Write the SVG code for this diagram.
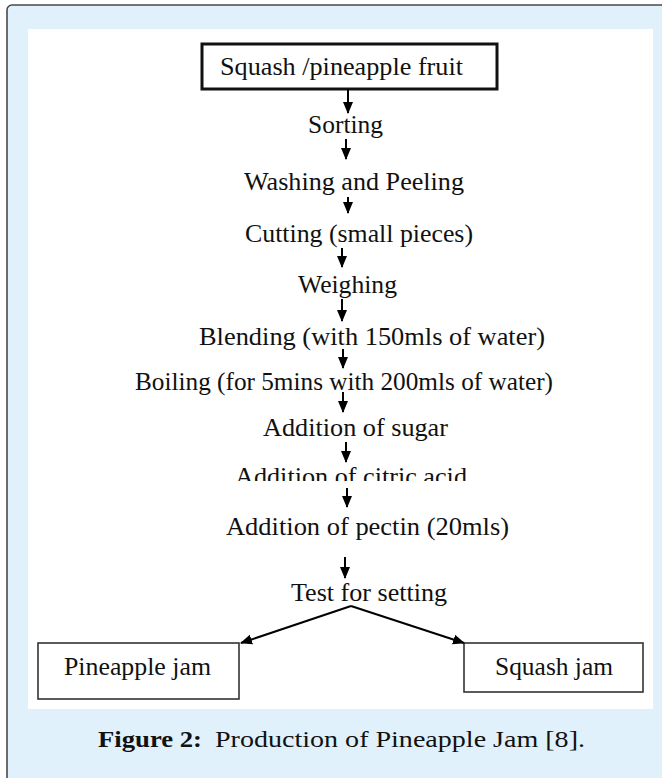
<svg xmlns="http://www.w3.org/2000/svg" width="662" height="778" viewBox="0 0 662 778">
  <style>
    .t { font-family: 'Liberation Serif', Tinos, 'Times New Roman', Times, 'Nimbus Roman', serif; font-size: 25px; fill: #111; }
    .cap { font-family: 'Liberation Serif', Tinos, 'Times New Roman', serif; font-size: 24px; fill: #111; }
    .box { fill: #fff; stroke: #333; stroke-width: 1.6; }
    .ln { stroke: #000; stroke-width: 2; fill: none; }
  </style>
  <defs>
    <marker id="ah" markerWidth="12" markerHeight="12" refX="11" refY="6" orient="auto" markerUnits="userSpaceOnUse">
      <path d="M0,1 L12,6 L0,11 Z" fill="#000"/>
    </marker>
    <clipPath id="clipCitric">
      <rect x="0" y="0" width="662" height="481"/>
    </clipPath>
  </defs>

  <rect x="7" y="5" width="700" height="800" rx="5" fill="#e0f1fb" stroke="#4a4a4a" stroke-width="1.6"/>
  <rect x="28" y="29" width="625" height="680" fill="#fff"/>

  <g id="n-fruit">
    <rect x="202" y="44" width="295" height="45" fill="#fff" stroke="#111" stroke-width="3"/>
    <text class="t" x="220" y="75" textLength="243" lengthAdjust="spacingAndGlyphs">Squash /pineapple  fruit</text>
  </g>
  <g id="n-sorting"><text class="t" x="308" y="133" textLength="75" lengthAdjust="spacingAndGlyphs">Sorting</text></g>
  <g id="n-washing"><text class="t" x="244" y="190" textLength="220" lengthAdjust="spacingAndGlyphs">Washing and Peeling</text></g>
  <g id="n-cutting"><text class="t" x="245" y="242" textLength="228" lengthAdjust="spacingAndGlyphs">Cutting (small pieces)</text></g>
  <g id="n-weighing"><text class="t" x="298" y="293" textLength="99" lengthAdjust="spacingAndGlyphs">Weighing</text></g>
  <g id="n-blending"><text class="t" x="199" y="345" textLength="346" lengthAdjust="spacingAndGlyphs">Blending (with 150mls of water)</text></g>
  <g id="n-boiling"><text class="t" x="135" y="390" textLength="418" lengthAdjust="spacingAndGlyphs">Boiling (for 5mins with 200mls of water)</text></g>
  <g id="n-sugar"><text class="t" x="263" y="436" textLength="185" lengthAdjust="spacingAndGlyphs">Addition of sugar</text></g>
  <g id="n-citric"><text class="t" x="235" y="485" textLength="232" lengthAdjust="spacingAndGlyphs" clip-path="url(#clipCitric)">Addition of citric acid</text></g>
  <g id="n-pectin"><text class="t" x="226" y="535" textLength="283" lengthAdjust="spacingAndGlyphs">Addition of pectin (20mls)</text></g>
  <g id="n-test"><text class="t" x="291" y="601" textLength="156" lengthAdjust="spacingAndGlyphs">Test  for setting</text></g>
  <g id="n-pineapple-jam">
    <rect class="box" x="38" y="643" width="201" height="56"/>
    <text class="t" x="64" y="675" textLength="147" lengthAdjust="spacingAndGlyphs">Pineapple jam</text>
  </g>
  <g id="n-squash-jam">
    <rect class="box" x="464" y="643" width="179" height="49"/>
    <text class="t" x="495" y="675" textLength="118" lengthAdjust="spacingAndGlyphs">Squash jam</text>
  </g>

  <g id="connectors">
    <line class="ln" x1="348" y1="89" x2="348" y2="113" marker-end="url(#ah)"/>
    <line class="ln" x1="346" y1="139" x2="346" y2="159" marker-end="url(#ah)"/>
    <line class="ln" x1="348" y1="197" x2="348" y2="213" marker-end="url(#ah)"/>
    <line class="ln" x1="342" y1="248" x2="342" y2="267" marker-end="url(#ah)"/>
    <line class="ln" x1="342" y1="299" x2="342" y2="321" marker-end="url(#ah)"/>
    <line class="ln" x1="343" y1="349" x2="343" y2="368" marker-end="url(#ah)"/>
    <line class="ln" x1="343" y1="392" x2="343" y2="412" marker-end="url(#ah)"/>
    <line class="ln" x1="346" y1="442" x2="346" y2="462" marker-end="url(#ah)"/>
    <line class="ln" x1="347" y1="488" x2="347" y2="507" marker-end="url(#ah)"/>
    <line class="ln" x1="345" y1="557" x2="345" y2="578" marker-end="url(#ah)"/>
    <line class="ln" x1="351" y1="606" x2="241" y2="643" stroke-width="2.5" marker-end="url(#ah)"/>
    <line class="ln" x1="351" y1="606" x2="464" y2="643" stroke-width="2.5" marker-end="url(#ah)"/>
  </g>

  <g id="caption">
    <text class="cap" x="98" y="747" font-weight="bold" textLength="104" lengthAdjust="spacingAndGlyphs">Figure 2:</text>
    <text class="cap" x="215" y="747" textLength="370" lengthAdjust="spacingAndGlyphs">Production of Pineapple Jam [8].</text>
  </g>
</svg>
